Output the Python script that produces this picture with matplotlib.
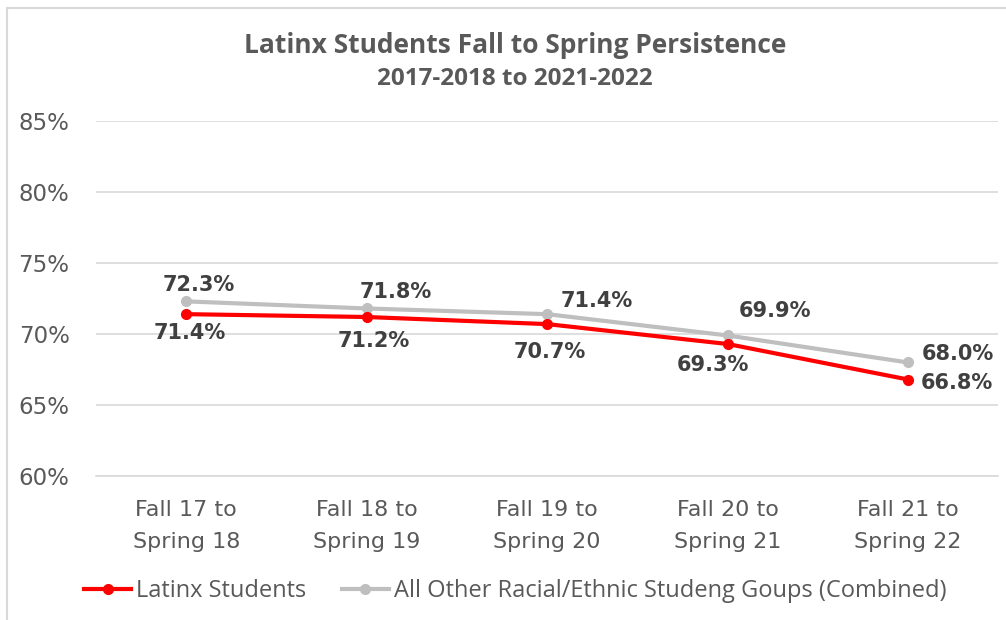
import matplotlib.pyplot as plt
from matplotlib.lines import Line2D
from matplotlib.ticker import FuncFormatter

categories = ["Fall 17 to\nSpring 18", "Fall 18 to\nSpring 19", "Fall 19 to\nSpring 20",
              "Fall 20 to\nSpring 21", "Fall 21 to\nSpring 22"]
latinx = [71.4, 71.2, 70.7, 69.3, 66.8]
others = [72.3, 71.8, 71.4, 69.9, 68.0]
y_ticks = [60, 65, 70, 75, 80, 85]

# label offsets in pixels (dx, dy)
latinx_off = [(4, -19), (7, -24), (3, -28), (-15, -21), (49, -3)]
others_off = [(13, 16), (29, 16), (50, 13), (47, 24), (50, 8)]

fig = plt.figure(figsize=(10.06, 6.2), dpi=100)
ax = fig.add_axes([0.0954, 0.232, 0.897, 0.573])

x = range(len(categories))
ax.plot(x, others, color="#bfbfbf", lw=3, marker="o", ms=7, zorder=3,
        label="All Other Racial/Ethnic Studeng Goups (Combined)")
ax.plot(x, latinx, color="#ff0000", lw=3, marker="o", ms=7, zorder=4,
        label="Latinx Students")

for i in x:
    ax.annotate(f"{others[i]:.1f}%", (i, others[i]), xytext=others_off[i],
                textcoords="offset pixels", ha="center", va="center",
                fontsize=15, fontweight="bold", color="#404040")
    ax.annotate(f"{latinx[i]:.1f}%", (i, latinx[i]), xytext=latinx_off[i],
                textcoords="offset pixels", ha="center", va="center",
                fontsize=15, fontweight="bold", color="#404040")

ax.set_xlim(-0.5, 4.5)
ax.set_ylim(60, 85)
ax.set_yticks(y_ticks)
ax.yaxis.set_major_formatter(FuncFormatter(lambda v, p: f"{v:.0f}%"))
ax.set_xticks(list(x))
ax.set_xticklabels(categories, fontsize=16, color="#595959", linespacing=1.75)
ax.tick_params(axis="y", labelsize=16.5, labelcolor="#595959", length=0, pad=19)
ax.tick_params(axis="x", length=0, pad=17)
ax.grid(axis="y", color="#d9d9d9", lw=1.2)
ax.set_axisbelow(True)
for s in ["top", "right", "left"]:
    ax.spines[s].set_visible(False)
ax.spines["bottom"].set_color("#d9d9d9")
ax.spines["bottom"].set_linewidth(1.2)

fig.text(0.512, 0.926, "Latinx Students Fall to Spring Persistence", ha="center", va="center",
         fontsize=19, fontweight="bold", color="#595959", family="Open Sans")
fig.text(0.512, 0.873, "2017-2018 to 2021-2022", ha="center", va="center",
         fontsize=17.5, fontweight="bold", color="#595959", family="Open Sans")

handles = [Line2D([], [], color="#ff0000", lw=3, marker="o", ms=7),
           Line2D([], [], color="#bfbfbf", lw=3, marker="o", ms=7)]
fig.legend(handles, ["Latinx Students", "All Other Racial/Ethnic Studeng Goups (Combined)"],
           loc="center", bbox_to_anchor=(0.512, 0.046), ncol=2, frameon=False,
           prop={"family": "Open Sans", "size": 17}, labelcolor="#595959",
           handlelength=2.0, handletextpad=0.2, columnspacing=1.5)

# chart border (extends past right and bottom edges)
fig.add_artist(Line2D([7 / 1006, 7 / 1006], [0, 1 - 8 / 620], color="#d9d9d9", lw=1.5,
                      transform=fig.transFigure))
fig.add_artist(Line2D([7 / 1006, 1], [1 - 8 / 620, 1 - 8 / 620], color="#d9d9d9", lw=1.5,
                      transform=fig.transFigure))

plt.savefig("out.png", dpi=100)
